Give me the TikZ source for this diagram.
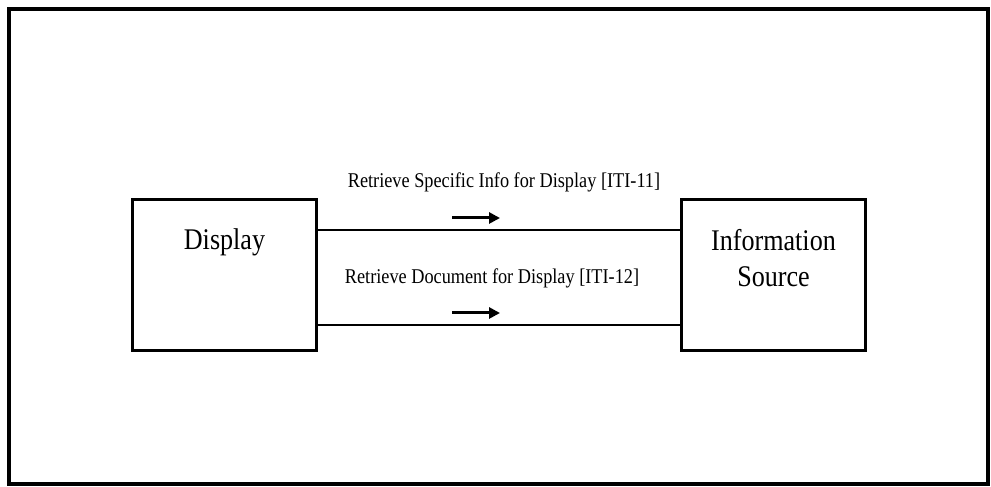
\documentclass[tikz,border=0pt]{standalone}
\usepackage{fontspec}
\setmainfont[FakeStretch=0.87]{Liberation Serif}
\usetikzlibrary{positioning, arrows.meta}

\begin{document}
\begin{tikzpicture}[x=1pt, y=1pt,
    box/.style={draw, line width=3pt, minimum width=184pt, minimum height=151pt},
    box text/.style={inner sep=0pt, align=center, font=\fontsize{30}{36}\selectfont},
    link/.style={line width=2.5pt},
    flow/.style={line width=3pt, -{Triangle[length=11pt, width=11pt]}},
    link text/.style={inner sep=0pt, font=\fontsize{21}{24}\selectfont}]
    \useasboundingbox (0,0) rectangle (991,487);
    \draw[line width=4pt] (9,3) rectangle (988,478);

    \node[box]                            (display) at (224.5,212) {};
    \node[box, right=362pt of display]    (source)  {};
    \node[box text, below=30pt of display.north]  (display text) {Display};
    \node[box text, below=31pt of source.north]   (source text)  {Information\\Source};

    \draw[link] ([yshift=-32pt]display.north east) -- coordinate (top mid) ([yshift=-32pt]source.north west);
    \draw[link] ([yshift=27pt]display.south east) -- coordinate (bottom mid) ([yshift=27pt]source.south west);

    \node[link text, above=38pt of top mid, xshift=5pt]    (top label)    {Retrieve Specific Info for Display [ITI-11]};
    \node[link text, above=37pt of bottom mid, xshift=-7pt] (bottom label) {Retrieve Document for Display [ITI-12]};

    \coordinate[above left=12pt and 47pt of top mid]     (top arrow start);
    \coordinate[above right=12pt and 1pt of top mid]     (top arrow end);
    \coordinate[above left=12pt and 47pt of bottom mid]  (bottom arrow start);
    \coordinate[above right=12pt and 1pt of bottom mid]  (bottom arrow end);
    \draw[flow] (top arrow start) -- (top arrow end);
    \draw[flow] (bottom arrow start) -- (bottom arrow end);
\end{tikzpicture}
\end{document}
